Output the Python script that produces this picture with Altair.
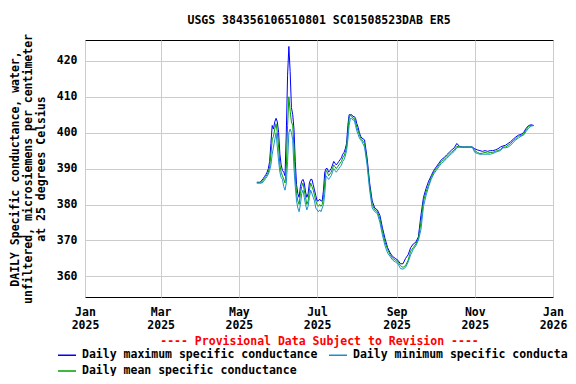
import altair as alt
import pandas as pd

# Day offsets from 2025-01-01
days = [134, 135, 136, 137, 138, 139, 140, 141, 142, 143,
        144, 145, 146, 147, 148, 149, 150, 151, 152, 153,
        154, 155, 156, 157, 158, 159, 160, 161, 162, 163,
        164, 165, 166, 167, 168, 169, 170, 171, 172, 173,
        174, 175, 176, 177, 178, 179, 180, 181, 182, 183,
        184, 185, 186, 187, 188, 189, 190, 191, 192, 193,
        194, 195, 196, 197, 198, 199, 200, 201, 202, 203,
        204, 205, 206, 207, 208, 209, 210, 211, 212, 213, 214, 215,
        216, 218, 220, 222, 224, 226, 228, 230, 232, 234,
        236, 238, 240, 242, 244, 246, 248, 250, 252, 254,
        256, 258, 260, 262, 264, 266, 268, 270, 272, 274,
        276, 278, 280, 282, 284, 286, 288, 290, 292, 294,
        296, 298, 300, 302, 304, 306, 308, 310, 312, 314,
        316, 318, 320, 322, 324, 326, 328, 330, 332, 334,
        336, 338, 340, 342, 344, 346, 348, 350]

mean_vals = [386, 386, 386, 386, 386.3, 386.8, 387.2, 387.8, 388.3, 389,
             390.5, 394, 398, 399, 401, 402.5, 400, 396, 391, 389,
             388, 387, 386, 390, 402, 410, 406, 403, 402, 396,
             388, 383, 381, 380, 383, 385, 386, 384, 382, 380,
             381, 384, 386, 385, 384, 382.5, 381, 380, 379.5, 380,
             379.5, 380, 382, 386, 389.5, 389, 388, 388.5, 389, 390,
             391, 390.5, 390, 390.5, 391, 391.5, 392, 393, 393.5, 394.5,
             396, 400, 404, 405, 404.5, 404, 404, 403, 401.5, 400.5, 399.5, 398.5,
             398, 397, 392, 385, 380, 378.5, 378, 376, 372.5, 369.5,
             367.5, 366, 365, 364.5, 364, 363, 362.5, 363, 364.5, 367,
             368, 369, 370.5, 375, 381, 383.5, 385.5, 387.5, 389, 390,
             391, 392, 392.5, 393.2, 394, 394.6, 395.2, 396.2, 396, 396,
             396, 396, 396, 396, 395, 394.5, 394.2, 394.3, 394.5, 394.3,
             394.5, 394.5, 394.8, 395, 395.3, 396, 396, 396.5, 397, 397.8,
             398.3, 399, 399.2, 399.5, 400.8, 401.8, 402, 402]

max_vals = [386.2, 386.2, 386.2, 386.3, 386.8, 387.2, 387.8, 388.3, 389, 390,
            392, 397, 402, 401, 403, 404, 403, 400, 394, 391,
            389.5, 389, 388, 400, 416, 424, 417, 407, 405, 401,
            392, 385.5, 383, 382, 385, 386.5, 387, 386, 383.5, 382,
            383, 386, 387, 387, 385.5, 384, 382.5, 381, 381, 381.5,
            381, 381, 384, 389, 390, 390, 389, 389.5, 390, 391,
            392, 391.5, 391, 391.5, 392, 392.5, 393, 394, 394.5, 395.5,
            397, 402, 405, 405, 405, 404.5, 404.5, 404, 402.5, 401.5, 400, 399,
            398.5, 398, 393, 386, 381, 379, 378.5, 377, 373.5, 370.5,
            368, 366.5, 365.5, 365, 364.5, 363.5, 363.5, 365, 366, 368,
            369, 369.5, 371, 377, 382, 384.5, 386.5, 388, 389.5, 390.5,
            391.5, 392.5, 393, 393.8, 394.5, 395.2, 395.8, 397, 396.2, 396,
            396, 396, 396, 396, 395.5, 395.2, 395, 394.8, 395, 394.8,
            395, 395, 395.2, 395.5, 396, 396.3, 396.5, 397, 397.5, 398.2,
            398.8, 399.3, 399.5, 400, 401.2, 402, 402.2, 402]

min_vals = [386, 386, 386, 386, 386, 386.3, 386.8, 387.3, 387.8, 388.5,
            389.5, 391, 394, 396, 398, 400, 396, 392, 389, 387.5,
            387, 385, 384, 386, 392, 400, 401, 400, 398, 390,
            385, 381, 379, 378, 380, 383, 384, 382, 380, 378.5,
            379.5, 382, 384, 383, 382, 381, 379, 378.5, 378, 378.5,
            378, 379, 380, 383, 388, 387.5, 387, 387.5, 388, 389,
            390, 389.5, 389, 389.5, 390, 390.5, 391, 392, 392.5, 393.5,
            395, 398, 402, 404, 404, 403.5, 403.5, 402, 400.5, 399.5, 398.5, 398,
            397.5, 396, 391, 384, 379, 378, 377.5, 375, 371.5, 368.5,
            366.5, 365.5, 364.5, 364, 363.5, 362.2, 362, 362.5, 364, 366,
            367.5, 368.5, 370, 373, 379.5, 382.5, 385, 387, 388.5, 389.5,
            390.5, 391.5, 392, 392.8, 393.5, 394.2, 394.8, 395.8, 396, 396,
            396, 396, 396, 396, 394.5, 394.2, 394, 394, 394, 394,
            394, 394.2, 394.5, 394.8, 395, 395.8, 395.8, 396, 396.5, 397.3,
            398, 398.5, 399, 399.3, 400.3, 401.3, 401.8, 402]

series_names = ["Daily maximum specific conductance",
                "Daily minimum specific conductance",
                "Daily mean specific conductance"]
series_colors = ["#0000ff", "#1a8fd0", "#00a000"]

title_text = "USGS 384356106510801 SC01508523DAB ER5"
y_title = ["DAILY Specific conductance, water,",
           "unfiltered, microsiemens per centimeter",
           "at 25 degrees Celsius"]
x_title = "---- Provisional Data Subject to Revision ----"

assert len(days) == len(mean_vals) == len(max_vals) == len(min_vals)

base = pd.Timestamp("2025-01-01")
dates = [(base + pd.Timedelta(days=d)).strftime("%Y-%m-%d") for d in days]

rows = []
for name, vals in [(series_names[0], max_vals), (series_names[2], mean_vals), (series_names[1], min_vals)]:
    for dt, v in zip(dates, vals):
        rows.append({"date": dt, "value": v, "series": name})
df = pd.DataFrame(rows)

FONT = "DejaVu Sans Mono"
FS = 11.5

tick_values = [alt.DateTime(year=2025, month=m, date=1, utc=True) for m in [1, 3, 5, 7, 9, 11]] + \
              [alt.DateTime(year=2026, month=1, date=1, utc=True)]

chart = alt.Chart(df).mark_line(strokeWidth=1).encode(
    x=alt.X("date:T",
            scale=alt.Scale(type="utc",
                            domain=[alt.DateTime(year=2025, month=1, date=1, utc=True),
                                    alt.DateTime(year=2026, month=1, date=1, utc=True)]),
            axis=alt.Axis(values=tick_values,
                          labelExpr="[utcFormat(datum.value, '%b'), utcFormat(datum.value, '%Y')]",
                          title=x_title, titleColor="#ff0000", titlePadding=5,
                          labelLineHeight=13, labelPadding=9, labelBaseline="top",
                          labelFlush=False, labelOverlap=False)),
    y=alt.Y("value:Q",
            scale=alt.Scale(domain=[354.25, 425.8], nice=False, zero=False),
            axis=alt.Axis(values=[360, 370, 380, 390, 400, 410, 420],
                          title=y_title, titlePadding=10, labelPadding=8,
                          titleLineHeight=13)),
    color=alt.Color("series:N",
                    scale=alt.Scale(domain=series_names, range=series_colors),
                    legend=alt.Legend(title=None, orient="none", legendX=-28, legendY=305,
                                      columns=2, direction="horizontal",
                                      symbolType="stroke", symbolSize=324,
                                      symbolStrokeWidth=1.5, labelLimit=400,
                                      labelOffset=5, columnPadding=8, rowPadding=-6,
                                      labelFont=FONT, labelFontSize=FS,
                                      labelFontWeight="bold", labelColor="#000000")),
    detail="series:N",
).properties(
    width=468,
    height=257,
    title=alt.Title(title_text, font=FONT, fontSize=FS, fontWeight="bold",
                    color="#000000", anchor="middle", offset=7),
    autosize=alt.AutoSizeParams(type="none"),
    padding={"left": 77, "top": 32, "right": 15, "bottom": 79},
).configure(
    background="#ffffff"
).configure_view(
    stroke="#000000", strokeWidth=1
).configure_axis(
    labelFont=FONT, labelFontSize=FS, labelFontWeight="bold", labelColor="#000000",
    titleFont=FONT, titleFontSize=FS, titleFontWeight="bold", titleColor="#000000",
    grid=True, gridColor="#cccccc", gridWidth=1, tickSize=0, domain=False
)

chart.save("out.html", embed_options={"renderer": "svg", "actions": False})
